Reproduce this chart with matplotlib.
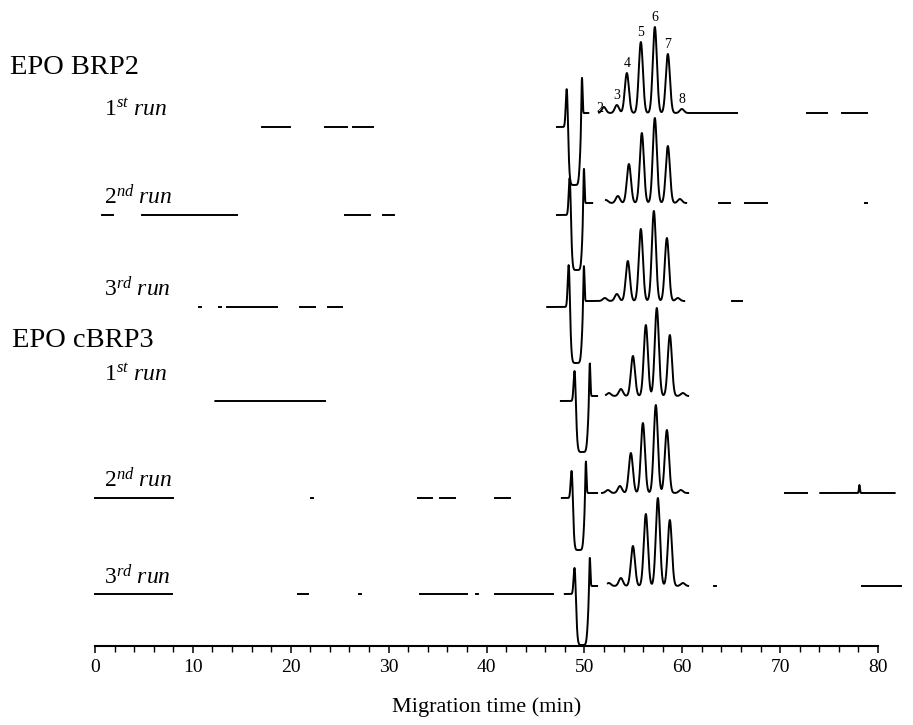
import numpy as np
import matplotlib
matplotlib.use("Agg")
import matplotlib.pyplot as plt
from matplotlib.ticker import MultipleLocator

plt.rcParams['font.family'] = ['Liberation Serif', 'DejaVu Serif']
plt.rcParams['mathtext.fontset'] = 'custom'
plt.rcParams['mathtext.rm'] = 'Liberation Serif'
plt.rcParams['mathtext.it'] = 'Liberation Serif:italic'

# --- values (signal in arbitrary units) ---
runs = ['1st', '2nd', '3rd', '1st', '2nd', '3rd']
groups = ['EPO BRP2', 'EPO cBRP3']

base_left = [519, 431, 339, 245, 148, 52]
base_right = [533, 443, 345, 250, 153, 60]

# system peak: positive spike, deep negative trough, positive spike
spike1_pos = [48.2, 48.5, 48.4, 49.0, 48.7, 49.0]
spike1_h = [39, 38, 43, 31, 28, 27]
spike2_pos = [49.75, 49.95, 49.95, 50.55, 50.15, 50.55]
spike2_h = [43, 41, 39, 36, 35, 33]
dip_depth = [58, 55, 56, 51, 52, 51]

# isoform peaks 2..8 (min) and their heights above baseline
iso_pos = [
    [51.99, 53.32, 54.34, 55.77, 57.20, 58.53, 59.96],
    [52.20, 53.42, 54.55, 55.87, 57.20, 58.53, 59.76],
    [52.09, 53.32, 54.44, 55.77, 57.10, 58.43, 59.55],
    [52.50, 53.73, 54.96, 56.28, 57.40, 58.73, 60.06],
    [52.40, 53.63, 54.75, 55.98, 57.30, 58.43, 59.86],
    [52.50, 53.73, 54.96, 56.28, 57.51, 58.73, 60.06],
]
iso_h = [
    [6, 8, 40, 71, 86, 59, 4],
    [3, 7, 39, 70, 85, 57, 4],
    [3, 7, 40, 72, 90, 63, 3],
    [3, 7, 40, 71, 88, 61, 3],
    [3, 7, 40, 70, 88, 63, 3],
    [3, 8, 40, 72, 88, 66, 3],
]
peak_labels = ['2', '3', '4', '5', '6', '7', '8']

# small stray spike on the 2nd cBRP3 run
glitch_run = [4]
glitch_pos = [78.1]
glitch_h = [8]

# stretches of each trace that survive in the scan (min)
visible = [
    [(17.1, 19.9), (23.5, 25.7), (26.4, 28.4), (47.2, 50.4), (51.5, 65.6),
     (72.7, 74.8), (76.3, 78.9)],
    [(0.7, 1.8), (4.8, 14.5), (25.5, 28.1), (29.4, 30.6), (47.2, 50.8),
     (52.2, 60.4), (63.8, 64.9), (66.4, 68.7), (78.7, 78.9)],
    [(10.6, 10.8), (12.7, 12.9), (13.5, 18.6), (20.9, 22.5), (23.8, 25.2),
     (46.2, 60.2), (65.1, 66.1)],
    [(12.3, 23.5), (47.6, 51.3), (52.2, 60.6)],
    [(0.0, 8.0), (22.1, 22.3), (33.0, 34.4), (35.2, 36.8), (40.9, 42.4),
     (47.7, 51.3), (51.8, 60.6), (70.5, 72.7), (74.1, 81.7)],
    [(0.0, 7.9), (20.7, 21.8), (27.0, 27.2), (33.2, 38.0), (38.9, 39.1),
     (40.9, 46.8), (48.0, 51.3), (52.4, 60.6), (63.2, 63.4), (78.4, 82.4)],
]


def gauss(x, mu, s):
    return np.exp(-0.5 * ((x - mu) / s) ** 2)


def signal(x, i):
    step = 1.0 / (1.0 + np.exp(-(x - spike2_pos[i]) / 0.05))
    y = base_left[i] + (base_right[i] - base_left[i]) * step
    y = y + spike1_h[i] * gauss(x, spike1_pos[i], 0.1)
    y = y + spike2_h[i] * gauss(x, spike2_pos[i], 0.06)
    c = 0.5 * (spike1_pos[i] + spike2_pos[i])
    hw = 0.4 * (spike2_pos[i] - spike1_pos[i])
    y = y - dip_depth[i] * np.exp(-np.abs((x - c) / hw) ** 6)
    for p, h in zip(iso_pos[i], iso_h[i]):
        y = y + h * gauss(x, p, 0.21)
    for r, p, h in zip(glitch_run, glitch_pos, glitch_h):
        if r == i:
            y = y + h * gauss(x, p, 0.05)
    return y


W, H = 913, 725
fig = plt.figure(figsize=(W / 100, H / 100), dpi=100)
ax = fig.add_axes([95 / W, (H - 646) / H, 783 / W, 646 / H])

for i in range(len(runs)):
    for a, b in visible[i]:
        x = np.linspace(a, b, max(int((b - a) * 100), 4))
        ax.plot(x, signal(x, i), color='black', lw=1.4, clip_on=False)

# peak numbering on the first run
for k, lab in enumerate(peak_labels):
    top = base_right[0] + iso_h[0][k]
    dx, dy = (-3, -6) if k == 0 else (0, 2)
    ax.annotate(lab, (iso_pos[0][k], top), xytext=(dx, dy), textcoords='offset points',
                ha='center', va='bottom', fontsize=10)

ax.set_xlim(0, 80)
ax.set_ylim(0, 646)
for s in ['top', 'right', 'left']:
    ax.spines[s].set_visible(False)
ax.spines['bottom'].set_linewidth(1.5)
ax.set_yticks([])
ax.set_xticks(np.arange(0, 81, 10))
ax.xaxis.set_minor_locator(MultipleLocator(2))
ax.tick_params(axis='x', which='major', direction='out', length=5, width=1.1,
               labelsize=14, pad=4)
ax.tick_params(axis='x', which='minor', direction='out', length=4, width=1.0)
ax.patch.set_visible(False)


def px(x, y):
    return x / W, 1 - y / H


fig.text(*px(487, 707), 'Migration time (min)', ha='center', va='center', fontsize=16)

fig.text(*px(10, 67), groups[0], ha='left', va='center', fontsize=20.5)
fig.text(*px(12, 340), groups[1], ha='left', va='center', fontsize=20.5)
run_y = [110, 197, 289, 375, 480, 577]
for r, yy in zip(runs, run_y):
    num, sup = r[0], r[1:]
    fig.text(*px(104, yy), r'$\mathit{%s}^{\mathit{%s}}\ \mathit{run}$' % (num, sup),
             ha='left', va='center', fontsize=17)

fig.savefig('out.png', dpi=100)
